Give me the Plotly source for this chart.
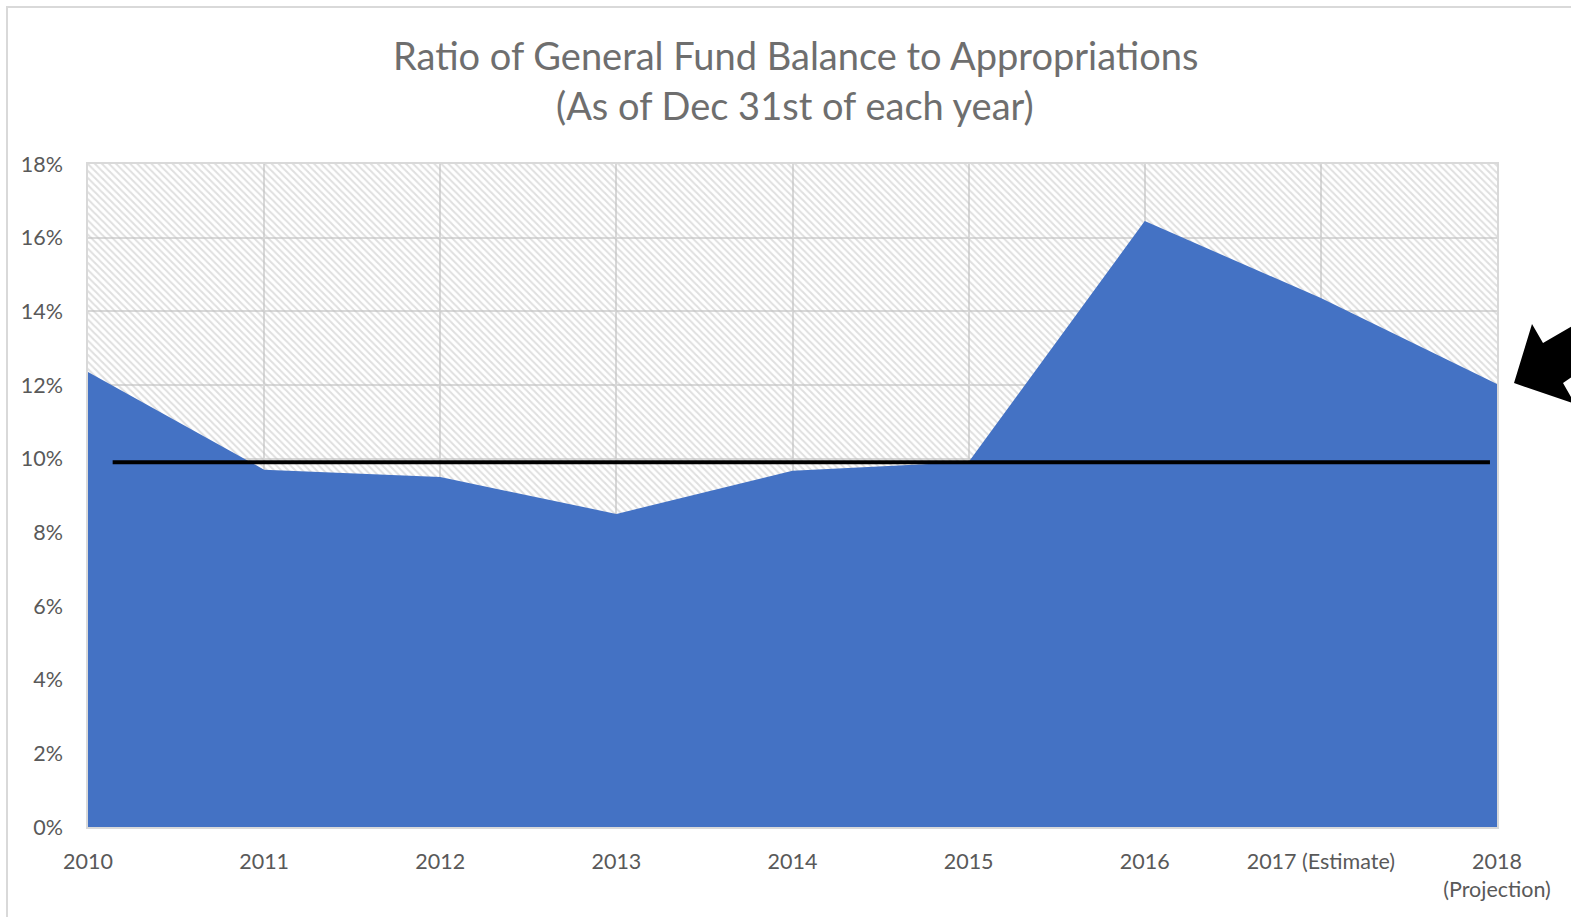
import plotly.graph_objects as go

# ---- data ----
categories = ["2010", "2011", "2012", "2013", "2014", "2015", "2016",
              "2017 (Estimate)", "2018<br>(Projection)"]
ratio_pct = [12.35, 9.7, 9.5, 8.5, 9.67, 9.91, 16.45, 14.36, 12.03]
target_pct = 9.9
target_span = [0.14, 7.96]
y_max_pct = 18
y_ticks = [0, 2, 4, 6, 8, 10, 12, 14, 16, 18]
y_tick_labels = [f"{v}%" for v in y_ticks]

x_pos = list(range(len(categories)))

W, H = 1571, 917
L, R, T, B = 88, 1497, 164, 827
PW, PH = R - L, B - T


def px(x, y):
    return (x - L) / PW, (B - y) / PH


fig = go.Figure()

# hatched background
fig.add_trace(go.Scatter(
    x=[x_pos[0], x_pos[-1]], y=[y_max_pct, y_max_pct],
    mode="lines", line=dict(width=0, color="#c0c0c0"),
    fill="tozeroy", fillcolor="rgba(0,0,0,0)",
    fillpattern=dict(shape="\\", size=5, solidity=0.4,
                     fgcolor="#c0c0c0", bgcolor="rgba(255,255,255,0)"),
    hoverinfo="skip", showlegend=False,
))

# blue area
fig.add_trace(go.Scatter(
    x=x_pos, y=ratio_pct, mode="lines",
    line=dict(width=0, color="#4472C4"),
    fill="tozeroy", fillcolor="#4472C4",
    showlegend=False,
))

# target line
fig.add_trace(go.Scatter(
    x=target_span, y=[target_pct, target_pct], mode="lines",
    line=dict(width=4, color="#000000"), showlegend=False,
))

font_family = "Lato, 'Open Sans', sans-serif"
tick_font = dict(family=font_family, size=21.5, color="#595959")

fig.update_layout(
    width=W, height=H,
    margin=dict(l=L, r=W - R, t=T, b=H - B),
    paper_bgcolor="white", plot_bgcolor="white",
    xaxis=dict(
        range=[x_pos[0], x_pos[-1]], tickmode="array", tickvals=x_pos,
        ticktext=categories, tickfont=tick_font,
        showgrid=True, gridcolor="#d9d9d9", gridwidth=1.5,
        showline=True, linecolor="#d9d9d9", linewidth=1.5, mirror=True,
        ticks="outside", ticklen=14, tickcolor="rgba(0,0,0,0)",
        zeroline=False, fixedrange=True,
    ),
    yaxis=dict(
        range=[0, y_max_pct], tickmode="array", tickvals=y_ticks,
        ticktext=y_tick_labels, tickfont=tick_font,
        showgrid=True, gridcolor="#d9d9d9", gridwidth=1.5,
        showline=True, linecolor="#d9d9d9", linewidth=1.5, mirror=True,
        ticks="outside", ticklen=19, tickcolor="rgba(0,0,0,0)",
        zeroline=False, fixedrange=True,
    ),
)

# title
for text, yc in [("Ratio of General Fund Balance to Appropriations", 55),
                 ("(As of Dec 31st of each year)", 105)]:
    xp, yp = px(795, yc)
    fig.add_annotation(text=text, xref="paper", yref="paper", x=xp, y=yp,
                       xanchor="center", yanchor="middle", showarrow=False,
                       font=dict(family=font_family, size=38, color="#6e6e6e"))

# outer chart border
x0, y0 = px(7, 7)
x1, y1 = px(1590, 940)
fig.add_shape(type="rect", xref="paper", yref="paper", x0=x0, y0=y1, x1=x1, y1=y0,
              line=dict(color="#d9d9d9", width=2), fillcolor="rgba(0,0,0,0)", layer="below")

# black block arrow
arrow_px = [(1514, 383), (1532, 324), (1543, 343), (1600, 310),
            (1612, 350), (1563, 383), (1575, 404)]
path = ""
for i, (ax, ay) in enumerate(arrow_px):
    xp, yp = px(ax, ay)
    path += ("M" if i == 0 else "L") + f"{xp},{yp} "
path += "Z"
fig.add_shape(type="path", xref="paper", yref="paper", path=path,
              fillcolor="black", line=dict(color="black", width=0))

fig.write_html("out.html")
